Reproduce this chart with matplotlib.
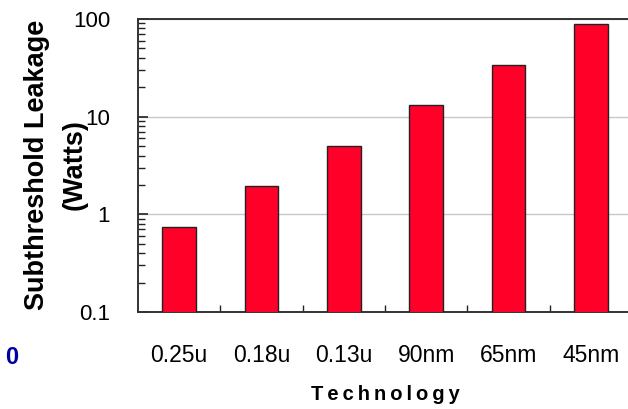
import matplotlib
matplotlib.use("Agg")
import matplotlib.pyplot as plt
from matplotlib.ticker import FixedLocator, LogLocator, NullFormatter

plt.rcParams['font.family'] = ['Liberation Sans', 'DejaVu Sans']

technologies = ['0.25u', '0.18u', '0.13u', '90nm', '65nm', '45nm']
leakage = [0.75, 1.97, 4.95, 13.3, 34, 89]
ytick_vals = [0.1, 1, 10, 100]
ytick_labels = ['0.1', '1', '10', '100']

fig = plt.figure(figsize=(6.28, 4.09), dpi=100)
ax = fig.add_axes([138/628, 1 - 312/409, (632-138)/628, (312-19)/409])

x = list(range(len(technologies)))
ax.bar(x, leakage, width=0.41, color='#FF0028', edgecolor='#222222',
       linewidth=1.0, zorder=3)
ax.set_yscale('log')
ax.set_ylim(0.1, 100)
ax.set_xlim(-0.5, len(technologies) - 0.5)

ax.set_yticks(ytick_vals)
ax.set_yticklabels(ytick_labels, fontsize=16)
ax.yaxis.set_minor_locator(LogLocator(base=10, subs=range(2, 10)))
ax.yaxis.set_minor_formatter(NullFormatter())
ax.tick_params(axis='y', which='major', direction='in', length=7, width=1.2,
               pad=20, colors='#222222', labelcolor='black')
ax.tick_params(axis='y', which='minor', direction='in', length=5, width=1.0,
               colors='#222222')
ax.grid(axis='y', which='major', color='#c8c8c8', linewidth=1.0, zorder=0)

ax.set_xticks(x)
ax.set_xticklabels(technologies, fontsize=16.5)
ax.xaxis.set_minor_locator(FixedLocator([i + 0.5 for i in x[:-1]]))
ax.tick_params(axis='x', which='major', length=0, pad=23)
ax.tick_params(axis='x', which='minor', direction='in', length=5, width=1.0,
               colors='#222222')

for side in ['left', 'top', 'bottom']:
    ax.spines[side].set_color('#333333')
    ax.spines[side].set_linewidth(1.4)
ax.spines['right'].set_visible(False)

tech_label = '\u2009'.join('Technology')
fig.text(385/628, 1 - 394/409, tech_label, fontsize=14.5,
         fontweight='bold', ha='center', va='center')
# y label as two separate lines, like the original
fig.text(37/628, 1 - 165/409, 'Subthreshold Leakage', fontsize=19.5,
         fontweight='bold', ha='center', va='center', rotation=90)
fig.text(75/628, 1 - 165/409, '(Watts)', fontsize=19.5,
         fontweight='bold', ha='center', va='center', rotation=90)
fig.text(12/628, 1 - 358/409, '0', fontsize=17, fontweight='bold',
         color='#0000A0', ha='center', va='center')

fig.savefig('out.png', dpi=100)
